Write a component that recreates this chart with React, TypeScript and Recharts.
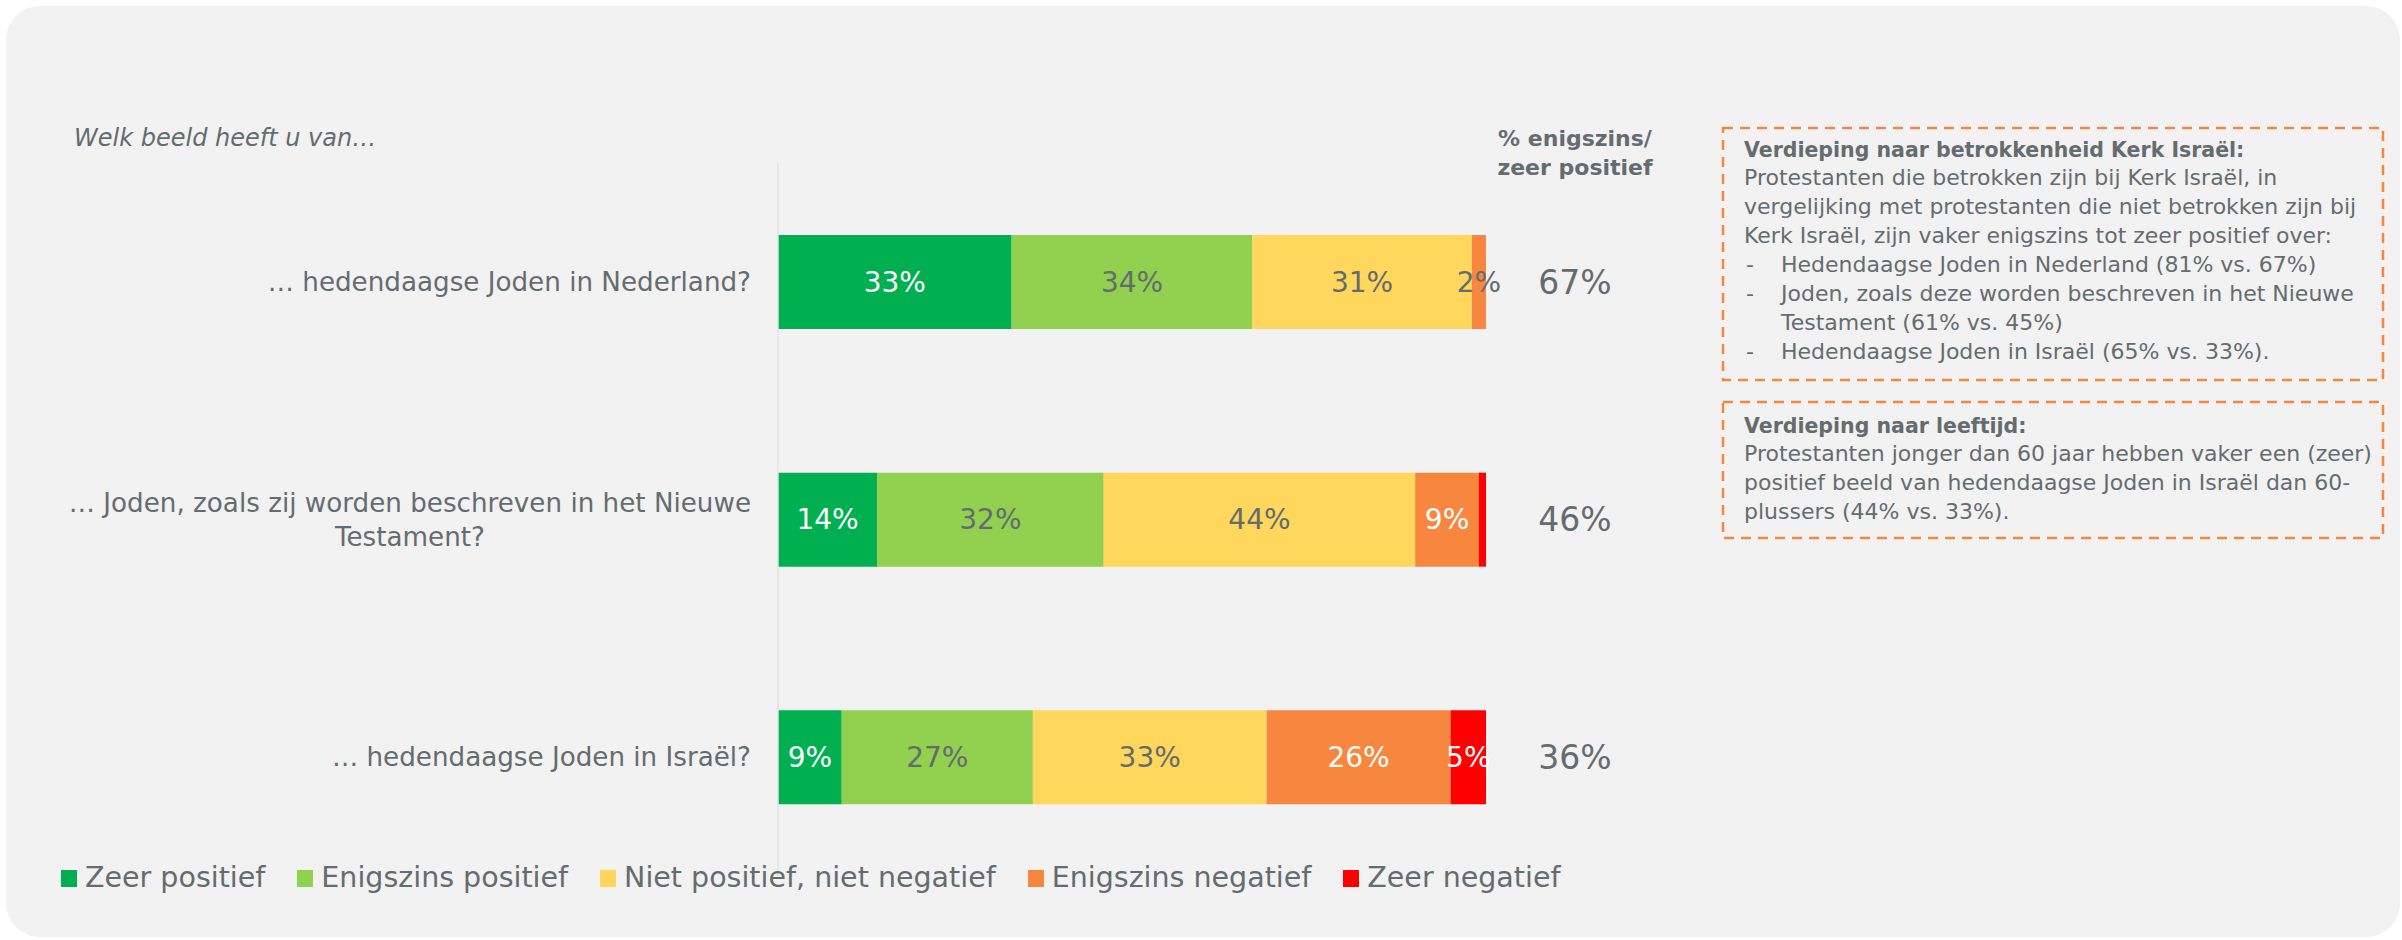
import React from 'react';
import { BarChart, Bar, XAxis, YAxis, LabelList, Legend } from 'recharts';

const categories = [
  '… hedendaagse Joden in Nederland?',
  '… Joden, zoals zij worden beschreven in het Nieuwe\nTestament?',
  '… hedendaagse Joden in Israël?',
];
const zeerPositief = [33, 14, 9];
const enigszinsPositief = [34, 32, 27];
const neutraal = [31, 44, 33];
const enigszinsNegatief = [2, 9, 26];
const zeerNegatief = [0, 1, 5];
const positiefTotaal = [67, 46, 36];

const seriesKeys = ['zeer', 'enigPos', 'neutraal', 'enigNeg', 'zeerNeg'];
const seriesNames = [
  'Zeer positief',
  'Enigszins positief',
  'Niet positief, niet negatief',
  'Enigszins negatief',
  'Zeer negatief',
];
const seriesColors = ['#00b050', '#92d050', '#ffd75c', '#f7863f', '#ff0000'];
const labelOnDark = [true, false, false, true, true];

const data = categories.map((label, i) => ({
  label,
  zeer: zeerPositief[i],
  enigPos: enigszinsPositief[i],
  neutraal: neutraal[i],
  enigNeg: enigszinsNegatief[i],
  zeerNeg: zeerNegatief[i],
  totaal: positiefTotaal[i],
}));

const FONT = '"DejaVu Sans", sans-serif';
const TEXT = '#656c6f';

let measureCtx: CanvasRenderingContext2D | null = null;
function textWidth(s: string, font: string) {
  if (!measureCtx) measureCtx = document.createElement('canvas').getContext('2d');
  if (!measureCtx) return s.length * 14;
  measureCtx.font = font;
  return measureCtx.measureText(s).width;
}

const CategoryTick = (props: any) => {
  const { x, y, payload } = props;
  const lines = String(payload.value).split('\n');
  const lh = 34;
  const top = y - ((lines.length - 1) * lh) / 2;
  const w0 = textWidth(lines[0], '26.2px "DejaVu Sans"');
  return (
    <g>
      {lines.map((line, i) => (
        <text
          key={i}
          x={i === 0 ? x : x - w0 / 2}
          y={top + i * lh}
          textAnchor={i === 0 ? 'end' : 'middle'}
          dominantBaseline="central"
          fontFamily={FONT}
          fontSize={26.2}
          fill={TEXT}
        >
          {line}
        </text>
      ))}
    </g>
  );
};

const segmentLabel = (s: number) => (props: any) => {
  const { x, y, width, height, value } = props;
  if (value == null || value < 2) return null;
  const white = labelOnDark[s] && value > 2;
  return (
    <text
      x={x + width / 2}
      y={y + height / 2}
      textAnchor="middle"
      dominantBaseline="central"
      fontFamily={FONT}
      fontSize={28}
      fill={white ? '#ffffff' : TEXT}
    >
      {value}%
    </text>
  );
};

// the total sits in its own column right of the stacked bars, measured from the bar origin
const totalLabel = (props: any) => {
  const { x, y, height, value } = props;
  return (
    <text
      x={x + 797}
      y={y + height / 2}
      textAnchor="middle"
      dominantBaseline="central"
      fontFamily={FONT}
      fontSize={33}
      fill={TEXT}
    >
      {value}%
    </text>
  );
};

const renderLegend = (props: any) => {
  const items = [...(props.payload || [])].sort(
    (a: any, b: any) => seriesNames.indexOf(a.value) - seriesNames.indexOf(b.value)
  );
  return (
    <div style={{ display: 'flex', alignItems: 'center', whiteSpace: 'nowrap' }}>
      {items.map((e: any) => (
        <div key={e.value} style={{ display: 'flex', alignItems: 'center', marginRight: 32 }}>
          <span style={{ width: 16, height: 17, background: e.color, marginRight: 8, display: 'inline-block' }} />
          <span style={{ fontFamily: FONT, fontSize: 28.5, color: TEXT, lineHeight: '36px' }}>{e.value}</span>
        </div>
      ))}
    </div>
  );
};

const boxText: React.CSSProperties = {
  position: 'absolute',
  left: 1744,
  fontFamily: FONT,
  fontSize: 22,
  lineHeight: '28.9px',
  color: TEXT,
  whiteSpace: 'nowrap',
};

const Bullet = ({ children }: { children: React.ReactNode }) => (
  <div style={{ position: 'relative', paddingLeft: 37 }}>
    <span style={{ position: 'absolute', left: 2 }}>-</span>
    {children}
  </div>
);

export default function App() {
  return (
    <div style={{ position: 'absolute', left: 0, top: 0, width: 2402, height: 940, background: '#ffffff', overflow: 'hidden' }}>
      <div
        style={{
          position: 'absolute',
          left: 6,
          top: 6,
          width: 2394,
          height: 931,
          borderRadius: 34,
          background: '#f2f2f2',
        }}
      />
      <div style={{ position: 'absolute', left: 0, top: 0 }}>
        <BarChart
          width={2402}
          height={940}
          data={data}
          layout="vertical"
          margin={{ top: 163, right: 916, bottom: 64, left: 78 }}
        >
          <XAxis type="number" domain={[0, 100]} hide />
          <YAxis
            type="category"
            dataKey="label"
            width={700}
            tickLine={false}
            tickSize={0}
            tickMargin={27}
            axisLine={{ stroke: '#e2e2e2', strokeWidth: 1.5 }}
            tick={<CategoryTick />}
            interval={0}
          />
          <Legend
            layout="vertical"
            verticalAlign="middle"
            align="center"
            content={renderLegend}
            wrapperStyle={{ top: 860, left: 61, width: 'auto' }}
          />
          {seriesKeys.map((k, s) => (
            <Bar
              key={k}
              dataKey={k}
              name={seriesNames[s]}
              stackId="a"
              fill={seriesColors[s]}
              barSize={94}
              isAnimationActive={false}
            >
              <LabelList dataKey={k} content={segmentLabel(s)} />
              {s === 0 && <LabelList dataKey="totaal" content={totalLabel} />}
            </Bar>
          ))}
        </BarChart>
      </div>

      <div
        style={{
          position: 'absolute',
          left: 74,
          top: 123,
          fontFamily: FONT,
          fontStyle: 'italic',
          fontSize: 24,
          lineHeight: '30px',
          color: TEXT,
          whiteSpace: 'nowrap',
        }}
      >
        Welk beeld heeft u van…
      </div>

      <div
        style={{
          position: 'absolute',
          left: 1475,
          width: 200,
          top: 123.5,
          textAlign: 'center',
          fontFamily: FONT,
          fontWeight: 'bold',
          fontSize: 22,
          lineHeight: '29px',
          color: TEXT,
        }}
      >
        % enigszins/
        <br />
        zeer positief
      </div>

      <svg width={2402} height={940} style={{ position: 'absolute', left: 0, top: 0, pointerEvents: 'none' }}>
        <rect x={1723} y={128} width={660} height={252} fill="none" stroke="#f7863f" strokeWidth={2.5} strokeDasharray="10 7" />
        <rect x={1723} y={402} width={660} height={136} fill="none" stroke="#f7863f" strokeWidth={2.5} strokeDasharray="10 7" />
      </svg>

      <div style={{ ...boxText, top: 135.5 }}>
        <div style={{ fontWeight: 'bold', fontSize: 20.5 }}>Verdieping naar betrokkenheid Kerk Israël:</div>
        <div>Protestanten die betrokken zijn bij Kerk Israël, in</div>
        <div>vergelijking met protestanten die niet betrokken zijn bij</div>
        <div>Kerk Israël, zijn vaker enigszins tot zeer positief over:</div>
        <Bullet>Hedendaagse Joden in Nederland (81% vs. 67%)</Bullet>
        <Bullet>
          Joden, zoals deze worden beschreven in het Nieuwe
          <br />
          Testament (61% vs. 45%)
        </Bullet>
        <Bullet>Hedendaagse Joden in Israël (65% vs. 33%).</Bullet>
      </div>

      <div style={{ ...boxText, top: 411.5 }}>
        <div style={{ fontWeight: 'bold', fontSize: 20.5 }}>Verdieping naar leeftijd:</div>
        <div>Protestanten jonger dan 60 jaar hebben vaker een (zeer)</div>
        <div>positief beeld van hedendaagse Joden in Israël dan 60-</div>
        <div>plussers (44% vs. 33%).</div>
      </div>
    </div>
  );
}
